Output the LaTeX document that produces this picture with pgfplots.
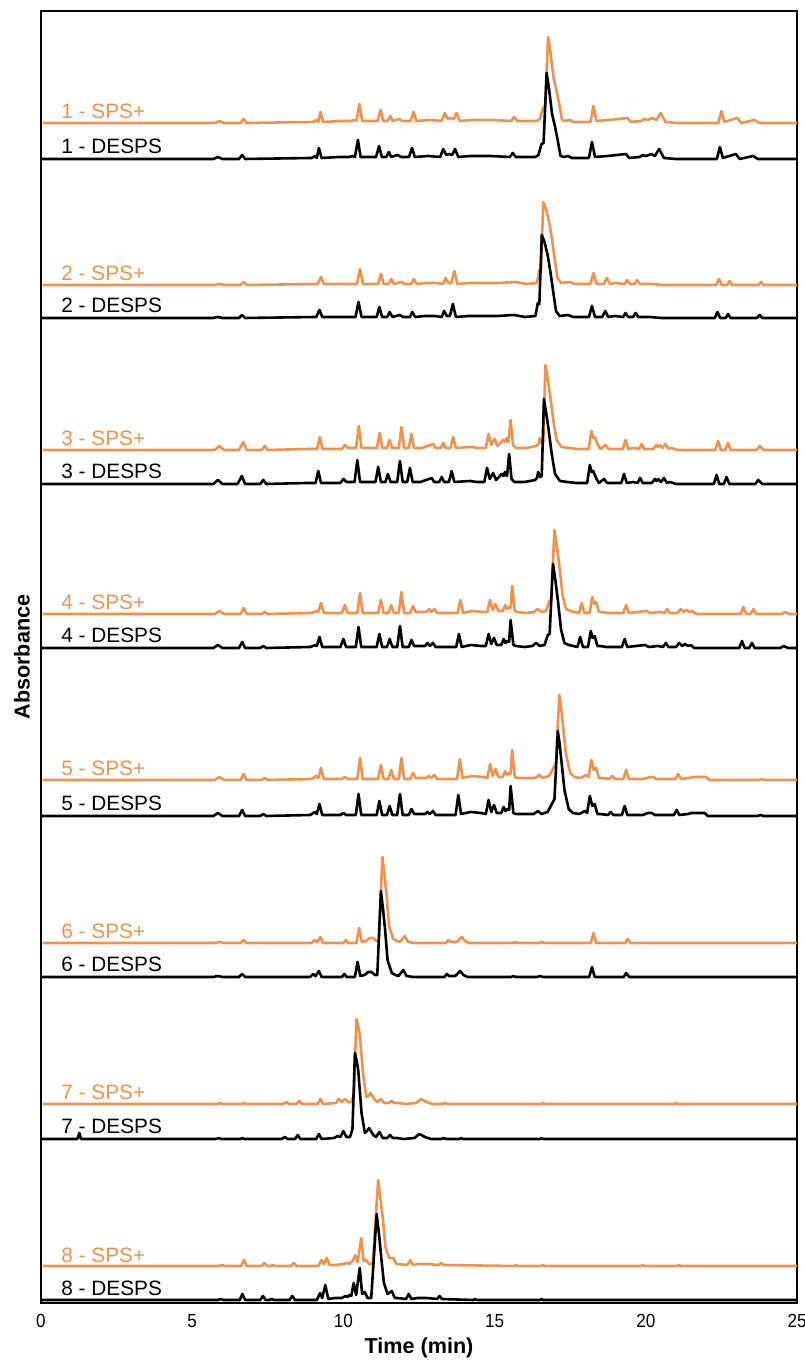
\documentclass[border=0pt]{standalone}
\usepackage{fontspec}
\setmainfont{Liberation Sans}
\newfontfamily\tickfont[FakeStretch=0.9]{Liberation Sans}
\usepackage{pgfplots}
\usepackage{pgfplotstable}
\pgfplotsset{compat=1.18}
\definecolor{sps}{RGB}{240,146,76}

\pgfplotstableread[row sep=\\]{t h\\ 0 0\\ 5.7 0\\ 5.85 2\\ 6.0 0\\ 6.55 0\\ 6.65 4\\ 6.75 0\\ 8.95 1\\ 9.07 3\\ 9.12 1\\ 9.19 11\\ 9.28 1\\ 9.85 2\\ 10.0 2\\ 10.2 2\\ 10.3 3\\ 10.38 2\\ 10.48 19\\ 10.57 2\\ 11.08 2\\ 11.18 13\\ 11.27 2\\ 11.42 2\\ 11.5 7\\ 11.58 2\\ 11.8 4\\ 11.9 2\\ 12.17 2\\ 12.27 11\\ 12.36 2\\ 12.8 3\\ 13.2 2\\ 13.3 10\\ 13.4 4\\ 13.5 5\\ 13.6 4\\ 13.69 10\\ 13.8 2\\ 14.2 3\\ 14.85 3\\ 15.5 2\\ 15.6 6\\ 15.7 2\\ 16.35 2\\ 16.45 4\\ 16.55 15\\ 16.62 16\\ 16.72 86\\ 16.8 70\\ 16.9 45\\ 17.0 32\\ 17.08 20\\ 17.18 3\\ 17.3 2\\ 17.43 3\\ 17.55 1\\ 18.12 1\\ 18.22 17\\ 18.32 2\\ 18.75 3\\ 19.35 5\\ 19.45 1\\ 19.8 2\\ 19.9 4\\ 20.0 3\\ 20.1 4\\ 20.17 5\\ 20.3 3\\ 20.44 10\\ 20.6 1\\ 21.0 0\\ 22.35 0\\ 22.45 12\\ 22.55 1\\ 22.98 5\\ 23.1 0\\ 23.55 3\\ 23.7 0\\ 25 0\\}\pone

\pgfplotstableread[row sep=\\]{t h\\ 0 0\\ 5.7 0\\ 5.85 1\\ 6.0 0\\ 6.55 0\\ 6.65 3\\ 6.75 0\\ 9.1 1\\ 9.21 8\\ 9.3 1\\ 10.4 1\\ 10.5 16\\ 10.6 1\\ 11.1 1\\ 11.19 11\\ 11.28 1\\ 11.45 1\\ 11.53 6\\ 11.62 1\\ 11.87 3\\ 11.97 1\\ 12.2 1\\ 12.28 6\\ 12.37 1\\ 12.7 2\\ 13.0 2\\ 13.25 1\\ 13.33 7\\ 13.42 2\\ 13.52 2\\ 13.62 14\\ 13.72 1\\ 14.15 2\\ 14.93 2\\ 15.1 2\\ 15.64 3\\ 16.0 1\\ 16.35 2\\ 16.43 15\\ 16.48 14\\ 16.56 83\\ 16.66 75\\ 16.76 62\\ 16.85 45\\ 16.93 28\\ 17.03 7\\ 17.15 2\\ 17.43 3\\ 17.6 1\\ 18.12 1\\ 18.22 12\\ 18.32 1\\ 18.56 1\\ 18.66 7\\ 18.76 1\\ 18.97 2\\ 19.25 1\\ 19.33 5\\ 19.42 1\\ 19.58 1\\ 19.66 5\\ 19.75 1\\ 20.14 1\\ 20.5 0\\ 22.28 0\\ 22.37 6\\ 22.46 0\\ 22.64 0\\ 22.72 4\\ 22.8 0\\ 23.68 0\\ 23.76 3\\ 23.85 0\\ 25 0\\}\ptwo

\pgfplotstableread[row sep=\\]{t h\\ 0 0\\ 5.7 0\\ 5.85 4\\ 6.0 0\\ 6.5 0\\ 6.64 8\\ 6.75 0\\ 7.25 0\\ 7.35 4\\ 7.45 0\\ 8.8 1\\ 9.08 1\\ 9.17 13\\ 9.26 1\\ 9.9 1\\ 10.0 5\\ 10.1 2\\ 10.37 2\\ 10.46 24\\ 10.55 2\\ 11.06 2\\ 11.15 17\\ 11.24 2\\ 11.39 2\\ 11.47 10\\ 11.56 2\\ 11.78 2\\ 11.87 23\\ 11.96 2\\ 12.11 2\\ 12.2 16\\ 12.29 2\\ 12.55 2\\ 12.92 6\\ 13.0 2\\ 13.17 2\\ 13.25 7\\ 13.33 2\\ 13.49 2\\ 13.58 13\\ 13.67 2\\ 14.19 3\\ 14.4 2\\ 14.66 2\\ 14.75 16\\ 14.84 5\\ 14.95 11\\ 15.05 4\\ 15.23 10\\ 15.3 8\\ 15.34 12\\ 15.41 8\\ 15.48 30\\ 15.56 5\\ 15.65 2\\ 16.0 2\\ 16.34 4\\ 16.4 6\\ 16.44 12\\ 16.5 7\\ 16.56 8\\ 16.63 85\\ 16.7 72\\ 16.77 58\\ 16.89 30\\ 17.0 10\\ 17.16 3\\ 17.4 2\\ 17.7 1\\ 18.06 1\\ 18.15 19\\ 18.21 12\\ 18.26 13\\ 18.37 5\\ 18.45 1\\ 18.62 5\\ 18.72 1\\ 19.19 1\\ 19.28 10\\ 19.37 1\\ 19.58 2\\ 19.73 1\\ 19.81 6\\ 19.9 1\\ 20.2 1\\ 20.3 5\\ 20.36 3\\ 20.41 5\\ 20.5 2\\ 20.6 6\\ 20.7 1\\ 20.8 2\\ 21.0 0\\ 22.25 0\\ 22.34 9\\ 22.43 0\\ 22.58 0\\ 22.67 7\\ 22.76 0\\ 23.62 0\\ 23.72 4\\ 23.85 0\\ 25 0\\}\pthree

\pgfplotstableread[row sep=\\]{t h\\ 0 0\\ 5.7 0\\ 5.85 3\\ 6.0 0\\ 6.55 0\\ 6.65 6\\ 6.75 0\\ 7.25 0\\ 7.35 2\\ 7.45 0\\ 8.9 1\\ 9.08 3\\ 9.12 2\\ 9.21 11\\ 9.3 1\\ 9.9 1\\ 10.0 9\\ 10.09 1\\ 10.41 1\\ 10.5 21\\ 10.59 1\\ 11.1 1\\ 11.19 14\\ 11.28 1\\ 11.44 1\\ 11.53 9\\ 11.62 1\\ 11.78 1\\ 11.87 22\\ 11.96 1\\ 12.16 1\\ 12.25 8\\ 12.34 2\\ 12.5 2\\ 12.7 2\\ 12.78 5\\ 12.86 2\\ 12.96 5\\ 13.05 1\\ 13.73 1\\ 13.82 14\\ 13.91 1\\ 14.21 3\\ 14.55 2\\ 14.71 2\\ 14.8 14\\ 14.89 4\\ 14.98 10\\ 15.07 3\\ 15.22 3\\ 15.3 9\\ 15.36 5\\ 15.43 7\\ 15.48 6\\ 15.53 28\\ 15.62 3\\ 15.7 2\\ 16.0 1\\ 16.25 2\\ 16.37 5\\ 16.5 2\\ 16.65 3\\ 16.76 13\\ 16.82 14\\ 16.93 84\\ 17.01 68\\ 17.09 48\\ 17.2 18\\ 17.31 5\\ 17.45 3\\ 17.6 2\\ 17.74 1\\ 17.83 11\\ 17.92 1\\ 18.09 1\\ 18.18 17\\ 18.24 10\\ 18.31 12\\ 18.4 2\\ 18.48 2\\ 18.7 1\\ 19.21 1\\ 19.3 9\\ 19.39 1\\ 19.97 3\\ 20.1 1\\ 20.4 2\\ 20.57 1\\ 20.66 5\\ 20.75 1\\ 21.0 1\\ 21.1 5\\ 21.2 2\\ 21.3 4\\ 21.4 2\\ 21.49 3\\ 21.6 0\\ 23.09 0\\ 23.18 7\\ 23.27 0\\ 23.42 0\\ 23.51 5\\ 23.6 0\\ 24.45 0\\ 24.56 2\\ 24.7 0\\ 25 0\\}\pfour

\pgfplotstableread[row sep=\\]{t h\\ 0 0\\ 5.7 0\\ 5.85 3\\ 6.0 0\\ 6.55 0\\ 6.65 6\\ 6.75 0\\ 7.25 0\\ 7.35 2\\ 7.45 0\\ 8.9 1\\ 9.06 4\\ 9.12 2\\ 9.21 12\\ 9.3 1\\ 9.9 1\\ 10.0 3\\ 10.09 1\\ 10.41 1\\ 10.5 22\\ 10.59 1\\ 11.1 1\\ 11.19 15\\ 11.28 1\\ 11.44 1\\ 11.53 10\\ 11.62 1\\ 11.78 1\\ 11.87 22\\ 11.96 1\\ 12.16 1\\ 12.25 7\\ 12.34 2\\ 12.5 2\\ 12.7 2\\ 12.78 4\\ 12.86 2\\ 12.96 5\\ 13.05 1\\ 13.71 1\\ 13.8 21\\ 13.89 2\\ 14.21 4\\ 14.55 3\\ 14.71 2\\ 14.8 16\\ 14.89 4\\ 14.98 11\\ 15.07 3\\ 15.22 3\\ 15.3 9\\ 15.36 5\\ 15.43 7\\ 15.48 6\\ 15.53 30\\ 15.62 3\\ 15.7 2\\ 16.0 2\\ 16.3 2\\ 16.43 5\\ 16.55 2\\ 16.75 4\\ 16.86 10\\ 16.98 17\\ 17.09 85\\ 17.15 72\\ 17.22 52\\ 17.31 26\\ 17.45 7\\ 17.59 3\\ 17.8 2\\ 17.98 5\\ 18.06 3\\ 18.15 20\\ 18.23 10\\ 18.31 12\\ 18.4 2\\ 18.48 2\\ 18.75 1\\ 18.84 4\\ 18.93 1\\ 19.21 1\\ 19.3 10\\ 19.39 1\\ 19.9 1\\ 20.07 3\\ 20.2 3\\ 20.3 1\\ 20.93 1\\ 21.02 6\\ 21.11 1\\ 21.4 2\\ 21.5 3\\ 21.95 3\\ 22.05 0\\ 23.7 0\\ 23.79 1\\ 23.9 0\\ 25 0\\}\pfive

\pgfplotstableread[row sep=\\]{t h\\ 0 0\\ 5.7 0\\ 5.85 1\\ 6.0 0\\ 6.55 0\\ 6.65 3\\ 6.75 0\\ 8.9 0\\ 9.0 3\\ 9.08 1\\ 9.19 6\\ 9.28 0\\ 9.95 0\\ 10.03 3\\ 10.11 0\\ 10.38 0\\ 10.47 15\\ 10.56 1\\ 10.7 2\\ 10.82 5\\ 10.93 5\\ 11.05 2\\ 11.12 2\\ 11.24 86\\ 11.31 68\\ 11.38 47\\ 11.46 17\\ 11.6 4\\ 11.72 2\\ 11.82 1\\ 11.98 7\\ 12.09 1\\ 12.3 0\\ 13.34 0\\ 13.42 3\\ 13.5 1\\ 13.7 1\\ 13.86 6\\ 13.97 2\\ 14.1 0\\ 15.55 0\\ 15.62 1\\ 15.7 0\\ 16.4 0\\ 16.5 1\\ 16.6 0\\ 18.13 0\\ 18.22 10\\ 18.31 0\\ 19.27 0\\ 19.35 4\\ 19.45 0\\ 25 0\\}\psix

\pgfplotstableread[row sep=\\]{t h\\ 0 0\\ 1.2 0\\ 1.27 6\\ 1.32 0\\ 5.8 0\\ 5.88 1\\ 5.95 0\\ 6.6 0\\ 6.66 1\\ 6.72 0\\ 7.95 0\\ 8.07 2\\ 8.15 0\\ 8.4 0\\ 8.49 4\\ 8.58 0\\ 9.1 0\\ 9.19 5\\ 9.28 0\\ 9.7 1\\ 9.8 3\\ 9.9 2\\ 10.0 8\\ 10.1 2\\ 10.22 2\\ 10.3 10\\ 10.38 86\\ 10.44 78\\ 10.49 69\\ 10.6 26\\ 10.71 6\\ 10.78 8\\ 10.85 11\\ 10.99 4\\ 11.08 2\\ 11.19 7\\ 11.3 1\\ 11.45 1\\ 11.54 4\\ 11.63 1\\ 11.76 1\\ 12.0 0\\ 12.35 1\\ 12.51 5\\ 12.7 2\\ 12.9 0\\ 13.25 0\\ 13.3 1\\ 13.4 0\\ 13.85 0\\ 13.9 1\\ 13.95 0\\ 16.5 0\\ 16.55 1\\ 16.6 0\\ 25 0\\}\pseven

\pgfplotstableread[row sep=\\]{t h\\ 0 0\\ 5.8 0\\ 5.88 1\\ 5.95 0\\ 6.6 0\\ 6.66 1\\ 6.72 0\\ 7.95 0\\ 8.07 2\\ 8.15 0\\ 8.4 0\\ 8.49 3\\ 8.58 0\\ 9.1 0\\ 9.19 5\\ 9.28 0\\ 9.7 1\\ 9.8 5\\ 9.9 2\\ 10.0 5\\ 10.1 2\\ 10.22 2\\ 10.3 10\\ 10.38 85\\ 10.44 78\\ 10.49 70\\ 10.6 30\\ 10.71 7\\ 10.78 8\\ 10.85 11\\ 10.99 4\\ 11.08 2\\ 11.19 5\\ 11.3 1\\ 11.45 1\\ 11.54 3\\ 11.63 1\\ 11.76 1\\ 12.0 0\\ 12.35 1\\ 12.51 5\\ 12.7 2\\ 12.9 0\\ 13.25 0\\ 13.3 1\\ 13.4 0\\ 16.5 0\\ 16.55 1\\ 16.6 0\\ 20.9 0\\ 20.95 1\\ 21.0 0\\ 25 0\\}\psevenorange

\pgfplotstableread[row sep=\\]{t h\\ 0 0\\ 5.85 0\\ 5.94 1\\ 6.03 0\\ 6.57 0\\ 6.66 6\\ 6.75 0\\ 7.25 0\\ 7.34 4\\ 7.43 0\\ 7.55 0\\ 7.63 1\\ 7.7 0\\ 8.22 0\\ 8.31 4\\ 8.4 0\\ 9.12 0\\ 9.23 7\\ 9.3 2\\ 9.4 15\\ 9.5 1\\ 9.72 2\\ 9.95 2\\ 10.07 4\\ 10.14 3\\ 10.2 5\\ 10.26 4\\ 10.34 17\\ 10.42 5\\ 10.54 32\\ 10.62 6\\ 10.7 8\\ 10.8 2\\ 10.92 2\\ 11.1 86\\ 11.18 65\\ 11.26 40\\ 11.34 17\\ 11.46 6\\ 11.6 9\\ 11.7 2\\ 11.77 2\\ 12.07 1\\ 12.16 6\\ 12.25 1\\ 12.45 2\\ 12.76 2\\ 13.1 1\\ 13.18 4\\ 13.26 1\\ 14.3 0\\ 14.35 1\\ 14.4 0\\ 16.5 0\\ 16.55 1\\ 16.6 0\\ 25 0\\}\peight

\pgfplotstableread[row sep=\\]{t h\\ 0 0\\ 5.85 0\\ 5.94 1\\ 6.03 0\\ 6.57 0\\ 6.66 6\\ 6.75 0\\ 7.25 0\\ 7.34 3\\ 7.43 0\\ 7.55 0\\ 7.63 1\\ 7.7 0\\ 8.22 0\\ 8.31 3\\ 8.4 0\\ 9.12 0\\ 9.23 6\\ 9.3 2\\ 9.4 8\\ 9.5 1\\ 9.72 1\\ 9.95 2\\ 10.07 3\\ 10.14 2\\ 10.2 4\\ 10.26 5\\ 10.34 11\\ 10.42 4\\ 10.54 28\\ 10.62 5\\ 10.7 6\\ 10.8 2\\ 10.92 2\\ 11.1 86\\ 11.18 66\\ 11.26 46\\ 11.34 19\\ 11.46 8\\ 11.6 8\\ 11.7 2\\ 12.07 1\\ 12.16 6\\ 12.25 1\\ 12.45 2\\ 12.76 2\\ 13.1 1\\ 13.18 3\\ 13.26 1\\ 15.6 0\\ 15.65 1\\ 15.7 0\\ 16.5 0\\ 16.55 1\\ 16.6 0\\ 19.8 0\\ 19.85 1\\ 19.9 0\\ 21.0 0\\ 21.05 1\\ 21.1 0\\ 25 0\\}\peightorange

\begin{document}
\begin{tikzpicture}
\begin{axis}[
  scale only axis, width=378pt, height=646pt,
  xmin=0, xmax=25, ymin=0, ymax=1292,
  xtick={0,5,10,15,20,25}, ytick=\empty,
  major tick length=0pt,
  axis line style={line width=1pt},
  /pgf/number format/assume math mode=true,
  tick label style={font=\tickfont\fontsize{9.5}{11}\selectfont},
  xticklabel style={yshift=-2pt},
  xlabel={Time (min)}, ylabel={Absorbance},
  label style={font=\bfseries\fontsize{10.8}{13}\selectfont},
  xlabel style={at={(axis description cs:0.5,-0.0348)}, anchor=center},
  ylabel style={at={(axis description cs:-0.0251,0.5)}, anchor=center},
  every axis plot/.append style={line width=1.3pt, line join=round},
]
\addplot[sps] table[x expr=\thisrow{t}+0.05, y expr=\thisrow{h}+1180]{\pone};
\addplot[black] table[x=t, y expr=\thisrow{h}+1144]{\pone};
\addplot[sps] table[x expr=\thisrow{t}+0.05, y expr=\thisrow{h}+1018]{\ptwo};
\addplot[black] table[x=t, y expr=\thisrow{h}+985]{\ptwo};
\addplot[sps] table[x expr=\thisrow{t}+0.05, y expr=\thisrow{h}+853]{\pthree};
\addplot[black] table[x=t, y expr=\thisrow{h}+819]{\pthree};
\addplot[sps] table[x expr=\thisrow{t}+0.05, y expr=\thisrow{h}+689]{\pfour};
\addplot[black] table[x=t, y expr=\thisrow{h}+655]{\pfour};
\addplot[sps] table[x expr=\thisrow{t}+0.05, y expr=\thisrow{h}+523]{\pfive};
\addplot[black] table[x=t, y expr=\thisrow{h}+487]{\pfive};
\addplot[sps] table[x expr=\thisrow{t}+0.05, y expr=\thisrow{h}+360]{\psix};
\addplot[black] table[x=t, y expr=\thisrow{h}+326]{\psix};
\addplot[sps] table[x expr=\thisrow{t}+0.05, y expr=\thisrow{h}+199]{\psevenorange};
\addplot[black] table[x=t, y expr=\thisrow{h}+164]{\pseven};
\addplot[sps] table[x expr=\thisrow{t}+0.05, y expr=\thisrow{h}+37]{\peightorange};
\addplot[black] table[x=t, y expr=\thisrow{h}+3]{\peight};

\tikzset{lbl/.style={anchor=base west, inner sep=0pt, font=\fontsize{10.4}{12}\selectfont}}
\node[lbl, text=sps] at (axis cs:0.66,1184) {1 - SPS+};
\node[lbl] at (axis cs:0.66,1149) {1 - DESPS};
\node[lbl, text=sps] at (axis cs:0.66,1022) {2 - SPS+};
\node[lbl] at (axis cs:0.66,990) {2 - DESPS};
\node[lbl, text=sps] at (axis cs:0.66,857) {3 - SPS+};
\node[lbl] at (axis cs:0.66,824) {3 - DESPS};
\node[lbl, text=sps] at (axis cs:0.66,693) {4 - SPS+};
\node[lbl] at (axis cs:0.66,660) {4 - DESPS};
\node[lbl, text=sps] at (axis cs:0.66,527) {5 - SPS+};
\node[lbl] at (axis cs:0.66,492) {5 - DESPS};
\node[lbl, text=sps] at (axis cs:0.66,364) {6 - SPS+};
\node[lbl] at (axis cs:0.66,331) {6 - DESPS};
\node[lbl, text=sps] at (axis cs:0.66,203) {7 - SPS+};
\node[lbl] at (axis cs:0.66,169) {7 - DESPS};
\node[lbl, text=sps] at (axis cs:0.66,41) {8 - SPS+};
\node[lbl] at (axis cs:0.66,8) {8 - DESPS};
\end{axis}
\pgfresetboundingbox
\path ([xshift=-20.5pt,yshift=-30pt]current axis.south west) rectangle ([xshift=4pt,yshift=5.5pt]current axis.north east);
\end{tikzpicture}
\end{document}
